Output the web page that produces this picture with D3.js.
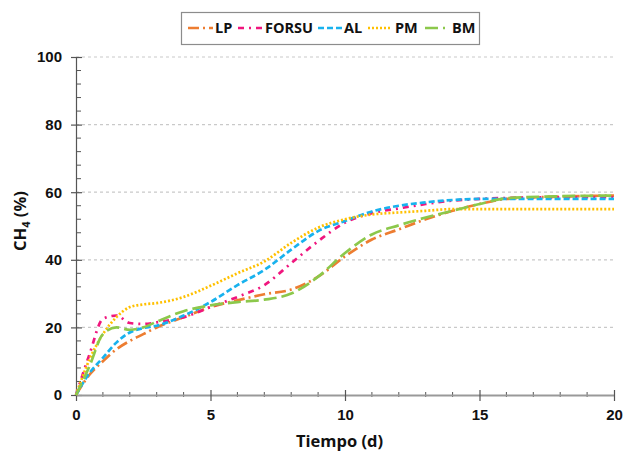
<!DOCTYPE html>
<html>
<head>
<meta charset="utf-8">
<script src="https://cdn.jsdelivr.net/npm/d3@7"></script>
<style>
  html, body { margin: 0; padding: 0; background: #fff; }
  svg { display: block; font-family: "Open Sans", "DejaVu Sans", sans-serif; }
</style>
</head>
<body>
<svg id="chart" width="624" height="451"></svg>
<script>
// Sampling times (days)
const tiempo = [0, 0.5, 1, 1.5, 2, 2.5, 3, 4, 5, 6, 7, 8, 9, 10, 11, 12, 13, 14, 15, 16, 18, 20];

// CH4 content (%) per substrate
const LP    = [0, 6,   10, 13.5, 16,   18,   20,   23,   26,   28,   29.8, 31.2, 35,   41,   46,   49,   52,   54.5, 56.5, 58,   58.7, 59];
const FORSU = [0, 12,  22.5, 23.5, 21.3, 21, 21.5, 23,   26,   29,   32.5, 39,   45.5, 51,   53.8, 55.2, 56.5, 57.5, 58,   58.3, 58.5, 58.5];
const AL    = [0, 6.5, 11, 15.5, 18.5, 19.8, 20.5, 23.5, 27.5, 32.5, 37,   43,   48.5, 51.5, 54.3, 56,   57,   57.7, 58,   58,   58,   58];
const PM    = [0, 10.5, 18, 23,  26,   26.8, 27.2, 29,   32.3, 36,   39.5, 45,   49.5, 52,   53.4, 54,   54.5, 55,   55,   55,   55,   55];
const BM    = [0, 8.5, 18, 20,   19.3, 20,   21.7, 24.8, 26.5, 27.5, 28.2, 30,   35,   42,   47.5, 50.2, 52.5, 54.5, 56.5, 58.2, 58.8, 59];

const seriesNames = ["LP", "FORSU", "AL", "PM", "BM"];
const seriesValues = [LP, FORSU, AL, PM, BM];
const seriesColors = ["#ED7D31", "#F0167E", "#18B2EE", "#FFC000", "#8CC84B"];
const seriesDash = ["11,4,2,4", "6,5,2,5", "6,3", "2,2", "13,5"];

const xTicks = [0, 5, 10, 15, 20];
const yTicks = [0, 20, 40, 60, 80, 100];

const svg = d3.select("#chart");
const W = 624, H = 451;
const m = { left: 76, right: 10, top: 57, bottom: 56 };

const x = d3.scaleLinear().domain([0, 20]).range([m.left, W - m.right]);
const y = d3.scaleLinear().domain([0, 100]).range([H - m.bottom, m.top]);

// dotted horizontal gridlines
svg.append("g")
  .selectAll("line")
  .data(yTicks.filter(d => d > 0))
  .join("line")
  .attr("x1", x(0)).attr("x2", x(20))
  .attr("y1", d => y(d)).attr("y2", d => y(d))
  .attr("stroke", "#c9c9c9")
  .attr("stroke-width", 1.2)
  .attr("stroke-dasharray", "3,3");

// minor ticks
const yMinor = d3.range(0, 101, 4).filter(d => d % 20 !== 0);
svg.append("g")
  .selectAll("line")
  .data(yMinor)
  .join("line")
  .attr("x1", x(0)).attr("x2", x(0) + 5)
  .attr("y1", d => y(d)).attr("y2", d => y(d))
  .attr("stroke", "#555").attr("stroke-width", 1);

const xMinor = d3.range(0, 21, 1).filter(d => d % 5 !== 0);
svg.append("g")
  .selectAll("line")
  .data(xMinor)
  .join("line")
  .attr("x1", d => x(d)).attr("x2", d => x(d))
  .attr("y1", y(0) - 3).attr("y2", y(0) + 2)
  .attr("stroke", "#555").attr("stroke-width", 1);

// y axis
const yAxis = d3.axisLeft(y).tickValues(yTicks).tickSize(0).tickPadding(14).tickFormat(d3.format("d"));
const gy = svg.append("g").attr("transform", `translate(${x(0)},0)`).call(yAxis);
gy.select(".domain").attr("stroke", "#555").attr("stroke-width", 1.2);
gy.selectAll(".tick text").attr("font-size", 15).attr("font-weight", 700).attr("fill", "#111");
gy.selectAll(".tick").append("line")
  .attr("x1", -5).attr("x2", 6).attr("stroke", "#555").attr("stroke-width", 1.2);

// x axis
const xAxis = d3.axisBottom(x).tickValues(xTicks).tickSize(0).tickPadding(14).tickFormat(d3.format("d"));
const gx = svg.append("g").attr("transform", `translate(0,${y(0)})`).call(xAxis);
gx.select(".domain").attr("stroke", "#999").attr("stroke-width", 2);
gx.selectAll(".tick text").attr("font-size", 15).attr("font-weight", 700).attr("fill", "#111");
gx.selectAll(".tick").append("line")
  .attr("y1", -5).attr("y2", 6).attr("stroke", "#555").attr("stroke-width", 1.2);

// axis titles
svg.append("text")
  .attr("x", 339.5).attr("y", 447)
  .attr("text-anchor", "middle")
  .attr("font-size", 16.5).attr("font-weight", 700).attr("fill", "#111")
  .text("Tiempo (d)");

const yt = svg.append("text")
  .attr("transform", `translate(26,221) rotate(-90)`)
  .attr("text-anchor", "middle")
  .attr("font-size", 16.5).attr("font-weight", 700).attr("fill", "#111");
yt.append("tspan").text("CH");
yt.append("tspan").attr("font-size", 11).attr("dy", 4).text("4");
yt.append("tspan").attr("dy", -4).text(" (%)");

// curves
const line = d3.line()
  .x(d => x(d[0]))
  .y(d => y(d[1]))
  .curve(d3.curveMonotoneX);

svg.append("g")
  .selectAll("path")
  .data(seriesNames.map((n, i) => ({ name: n, pts: tiempo.map((t, j) => [t, seriesValues[i][j]]), i })))
  .join("path")
  .attr("d", d => line(d.pts))
  .attr("fill", "none")
  .attr("stroke", d => seriesColors[d.i])
  .attr("stroke-width", 2.7)
  .attr("stroke-dasharray", d => seriesDash[d.i]);

// legend
const legend = svg.append("g");
legend.append("rect")
  .attr("x", 181.5).attr("y", 12.5).attr("width", 298).attr("height", 32)
  .attr("fill", "#fff").attr("stroke", "#8c8c8c").attr("stroke-width", 1.2);

const legX = [188, 238, 318, 368, 425];
const legLen = [25, 25, 24, 24, 20];
const txtX = [215, 265, 344, 395, 452];
seriesNames.forEach((n, i) => {
  legend.append("line")
    .attr("x1", legX[i]).attr("x2", legX[i] + legLen[i])
    .attr("y1", 28).attr("y2", 28)
    .attr("stroke", seriesColors[i]).attr("stroke-width", 2.6)
    .attr("stroke-dasharray", seriesDash[i]);
  legend.append("text")
    .attr("x", txtX[i]).attr("y", 33)
    .attr("font-size", 14.5).attr("font-weight", 700).attr("fill", "#111")
    .text(n);
});
</script>
</body>
</html>
